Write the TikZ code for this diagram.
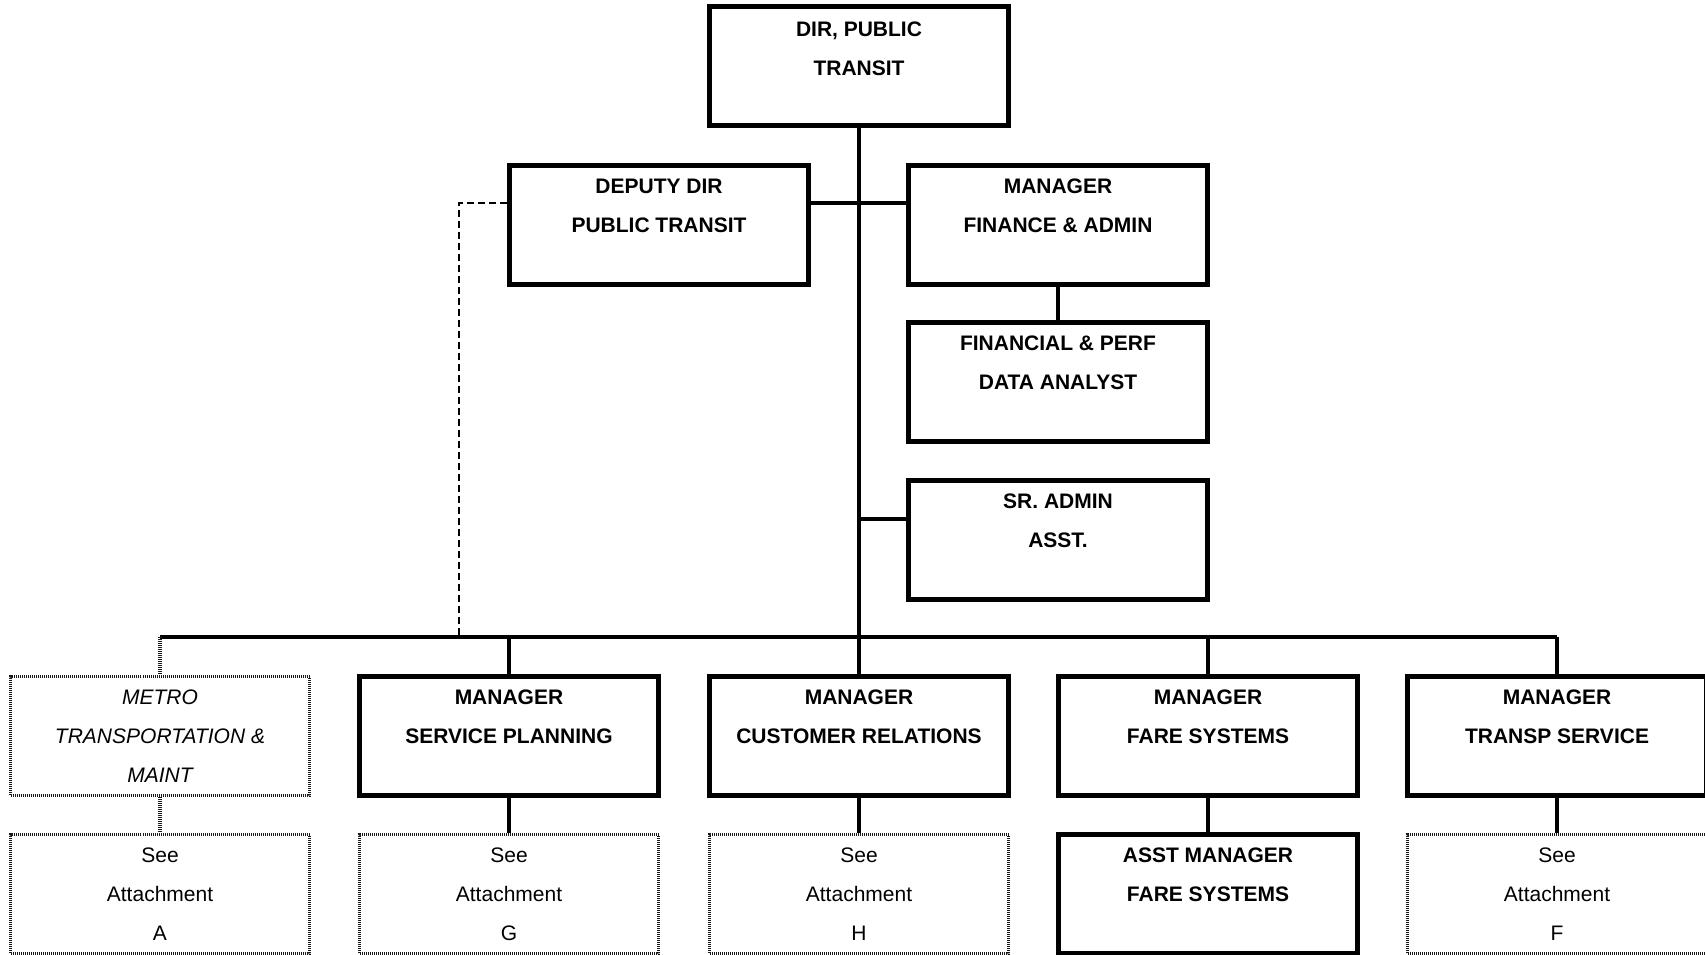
\documentclass[tikz,border=0pt]{standalone}
\usepackage{fontspec}
\setmainfont{Liberation Sans}
\begin{document}
\begin{tikzpicture}[x=1pt,y=-1pt,
  base/.style={rectangle, minimum width=299pt, minimum height=119pt, inner sep=0pt,
    align=center, font=\fontsize{21}{39}\selectfont},
  mgr/.style={base, draw, line width=4.5pt, font=\fontsize{21}{39}\selectfont\bfseries},
  dotbox/.style={base, draw=black!90, line width=3pt, dash pattern=on 1pt off 1pt},
  conn/.style={line width=4.5pt},
  dotconn/.style={draw=black!90, line width=4pt, dash pattern=on 1pt off 1pt},
  dashconn/.style={line width=2pt, dash pattern=on 7pt off 4pt}]
\useasboundingbox (0,0) rectangle (1705,954);
\fill[white] (0,0) rectangle (1705,954);

% top of the organisation
\node[mgr] (dir)  at (859,66)  {\rule{0pt}{19pt}DIR, PUBLIC\\TRANSIT\\\mbox{}};
\node[mgr] (dep)  at (659,225) {DEPUTY DIR\\PUBLIC TRANSIT\\\mbox{}};
\node[mgr] (fin)  at (1058,225) {MANAGER\\FINANCE \& ADMIN\\\mbox{}};
\node[mgr] (perf) at (1058,382) {FINANCIAL \& PERF\\DATA ANALYST\\\mbox{}};
\node[mgr] (sra)  at (1058,540) {SR. ADMIN\\ASST.\\\mbox{}};

% managers row
\node[dotbox, font=\fontsize{21}{39}\selectfont\itshape] (metro) at (160,736)
  {METRO\\TRANSPORTATION \&\\MAINT};
\node[mgr] (sp) at (509,736)  {MANAGER\\SERVICE PLANNING\\\mbox{}};
\node[mgr] (cr) at (859,736)  {MANAGER\\CUSTOMER RELATIONS\\\mbox{}};
\node[mgr] (fs) at (1208,736) {MANAGER\\FARE SYSTEMS\\\mbox{}};
\node[mgr] (ts) at (1557,736) {MANAGER\\TRANSP SERVICE\\\mbox{}};

% attachments row
\node[dotbox] (attA) at (160,894)  {See\\Attachment\\A};
\node[dotbox] (attG) at (509,894)  {See\\Attachment\\G};
\node[dotbox] (attH) at (859,894)  {See\\Attachment\\H};
\node[mgr]    (asst) at (1208,894) {ASST MANAGER\\FARE SYSTEMS\\\mbox{}};
\node[dotbox] (attF) at (1557,894) {See\\Attachment\\F};

% junction points
\coordinate (lvl)  at (859,203);
\coordinate (sraj) at (859,519);
\coordinate (bus)  at (859,637);
\coordinate (dashx) at (459,637);

% solid reporting lines
\draw[conn] (dir.south) -- (cr.north);
\draw[conn] (dep.east |- lvl) -- (fin.west |- lvl);
\draw[conn] (fin.south) -- (perf.north);
\draw[conn] (sraj) -- (sra.west |- sraj);
\draw[conn] (metro.north |- bus) -- (ts.north |- bus);
\draw[conn] (sp.north |- bus) -- (sp.north);
\draw[conn] (fs.north |- bus) -- (fs.north);
\draw[conn] (ts.north |- bus) -- (ts.north);
\draw[conn] (sp.south) -- (attG.north);
\draw[conn] (cr.south) -- (attH.north);
\draw[conn] (fs.south) -- (asst.north);
\draw[conn] (ts.south) -- (attF.north);

% dotted links to the metro unit
\draw[dotconn] (metro.north |- bus) -- (metro.north);
\draw[dotconn] (metro.south) -- (attA.north);

% dashed line from the deputy director
\draw[dashconn] (dep.west |- lvl) -| (dashx);
\end{tikzpicture}
\end{document}
